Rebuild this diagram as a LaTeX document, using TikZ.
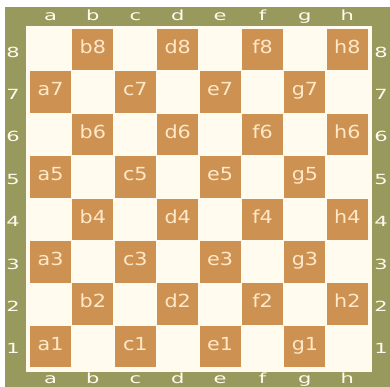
\documentclass[tikz,border=0pt]{standalone}
\usepackage{fontspec}
\setmainfont{DejaVu Sans}[FakeStretch=1.15]
\newfontfamily\randfont{DejaVu Sans}[FakeStretch=1.5]
\usetikzlibrary{positioning}

\definecolor{randolijf}{RGB}{152,153,92}
\definecolor{bordcreme}{RGB}{255,251,238}
\definecolor{veldbruin}{RGB}{205,146,82}
\definecolor{tekstcreme}{RGB}{255,232,200}

\begin{document}
\begin{tikzpicture}[x=1pt, y=-1pt,
      veld/.style={fill=veldbruin, text=tekstcreme, minimum width=41pt, minimum height=41.5pt, inner sep=0pt, text height=12pt, text depth=4.5pt, font=\fontsize{18pt}{18pt}\selectfont},
      rand/.style={text=bordcreme, inner sep=0pt, font=\randfont\fontsize{14pt}{14pt}\selectfont},
      randbase/.style={rand, anchor=base}
    ]

    % ─── Canvas, rim and board ───────────────────────────────────
    \useasboundingbox (0,0) rectangle (390,387);
    \fill[white] (0,0) rectangle (390,387);
    \fill[randolijf] (5,7) rectangle (390,387);
    \fill[bordcreme] (26,26) rectangle (372,372);

    % ─── Dark squares and file letters ───────────────────────────
    \foreach \f [count=\i from 0] in {a,b,c,d,e,f,g,h} {
      \foreach \r in {1,...,8} {
        \pgfmathtruncatemacro\donker{mod(\i+\r,2)}
        \ifnum\donker=1
          \node[veld] (\f\r) at ({50.5+42.4*\i},{49.75+42.4*(8-\r)}) {\f\r};
        \fi
      }
      \node[randbase] (boven\f) at ({50.5+42.4*\i},21) {\f};
      \node[randbase] (onder\f) at ({50.5+42.4*\i},383) {\f};
    }

    % ─── Rank numbers ────────────────────────────────────────────
    \foreach \r in {1,...,8} {
      \node[rand] (links\r)  at (13,{52+42.4*(8-\r)}) {\r};
      \node[rand] (rechts\r) at (381,{52+42.4*(8-\r)}) {\r};
    }

    \end{tikzpicture}
\end{document}
